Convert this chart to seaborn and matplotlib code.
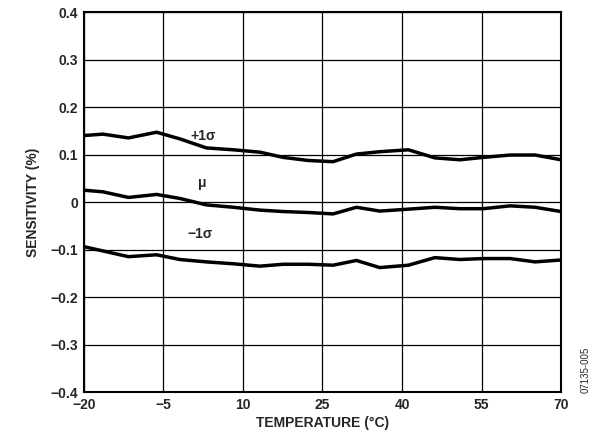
import numpy as np
import matplotlib
matplotlib.use("Agg")
import matplotlib.pyplot as plt
import seaborn as sns

temp = [-20, -16.4, -11.6, -6.3, -1.9, 3.1, 8.2, 13.2, 17.6, 22.3, 27.0,
        31.4, 35.8, 41.2, 46.2, 50.9, 55.3, 60.4, 65.1, 70]
plus_sigma = [0.140, 0.143, 0.135, 0.147, 0.133, 0.114, 0.110, 0.105, 0.094, 0.0875,
              0.085, 0.101, 0.106, 0.110, 0.093, 0.089, 0.094, 0.099, 0.099, 0.089]
mu = [0.025, 0.0215, 0.0097, 0.016, 0.0076, -0.006, -0.011, -0.017, -0.020, -0.022,
      -0.025, -0.011, -0.019, -0.015, -0.011, -0.014, -0.014, -0.008, -0.011, -0.020]
minus_sigma = [-0.094, -0.103, -0.115, -0.111, -0.121, -0.126, -0.130, -0.135, -0.131, -0.131,
               -0.133, -0.123, -0.138, -0.133, -0.117, -0.121, -0.119, -0.119, -0.126, -0.122]
xticks = [-20, -5, 10, 25, 40, 55, 70]
yticks = [-0.4, -0.3, -0.2, -0.1, 0, 0.1, 0.2, 0.3, 0.4]

sns.set_style("white")
plt.rcParams['font.family'] = ['Liberation Sans', 'DejaVu Sans']

fig = plt.figure(figsize=(5.95, 4.47), dpi=100)
ax = fig.add_axes([0.141, 0.123, 0.802, 0.850])
for s in [plus_sigma, mu, minus_sigma]:
    sns.lineplot(x=temp, y=s, ax=ax, color='black', linewidth=2.5)

ax.set_xlim(-20, 70)
ax.set_ylim(-0.4, 0.4)
ax.set_xticks(xticks)
ax.set_xticklabels(['\u221220', '\u22125', '10', '25', '40', '55', '70'])
ax.set_yticks(yticks)
ax.set_yticklabels(['\u22120.4', '\u22120.3', '\u22120.2', '\u22120.1', '0', '0.1', '0.2', '0.3', '0.4'])
ax.grid(True, color='black', linewidth=0.9)
for sp in ax.spines.values():
    sp.set_color('black')
    sp.set_linewidth(1.5)
ax.tick_params(labelsize=10, length=0, pad=4)
for t in ax.get_xticklabels() + ax.get_yticklabels():
    t.set_fontweight('bold')

ax.text(2.5, 0.14, '+1\u03c3', fontsize=10, fontweight='bold', ha='center', va='center')
ax.text(2.3, 0.04, '\u03bc', fontsize=10, fontweight='bold', ha='center', va='center')
ax.text(2.0, -0.068, '\u22121\u03c3', fontsize=10, fontweight='bold', ha='center', va='center')

ax.set_xlabel('TEMPERATURE (\u00b0C)', fontsize=10, fontweight='bold', labelpad=3)
ax.set_ylabel('SENSITIVITY (%)', fontsize=10, fontweight='bold', labelpad=8)
fig.text(0.985, 0.12, '07135-005', rotation=90, fontsize=7, ha='center', va='bottom')

fig.savefig('out.png', dpi=100)
